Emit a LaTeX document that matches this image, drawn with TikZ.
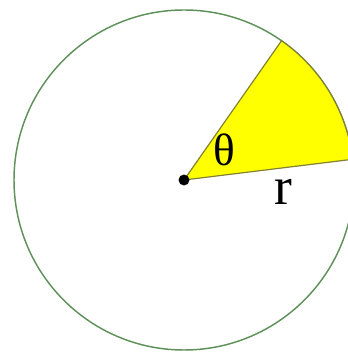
\documentclass[tikz,border=0pt]{standalone}
\usepackage{fontspec}
\setmainfont{Liberation Serif}
\usepackage{xcolor}
\usetikzlibrary{arrows.meta, positioning, calc}
\definecolor{rimgreen}{RGB}{95,145,90}
\definecolor{edgeolive}{RGB}{130,130,50}
\definecolor{wedgeyellow}{RGB}{255,255,0}

\begin{document}
\begin{tikzpicture}[x=0.75pt, y=0.75pt,
    rim/.style={draw=rimgreen, line width=1.1pt},
    wedge/.style={fill=wedgeyellow, draw=edgeolive, line width=0.9pt},
    dot/.style={circle, fill=black, inner sep=0pt, minimum size=8.2pt}]
    \useasboundingbox (0,0) rectangle (347,352);
    \coordinate (O) at (184,172);
    \draw[rim] (O) circle[radius=170];
    \coordinate (A) at ($(O)+(7:170)$);
    \coordinate (B) at ($(O)+(55:170)$);
    \draw[wedge] (O) -- (A) arc[start angle=7, end angle=55, radius=170] -- cycle;
    \node[dot] (c) at (O) {};
    \node[font=\fontsize{34}{34}\selectfont, anchor=base] (theta) at (224,186) {θ};
    \node[font=\fontsize{40}{40}\selectfont, anchor=base] (r) at (283,147) {r};
\end{tikzpicture}
\end{document}
